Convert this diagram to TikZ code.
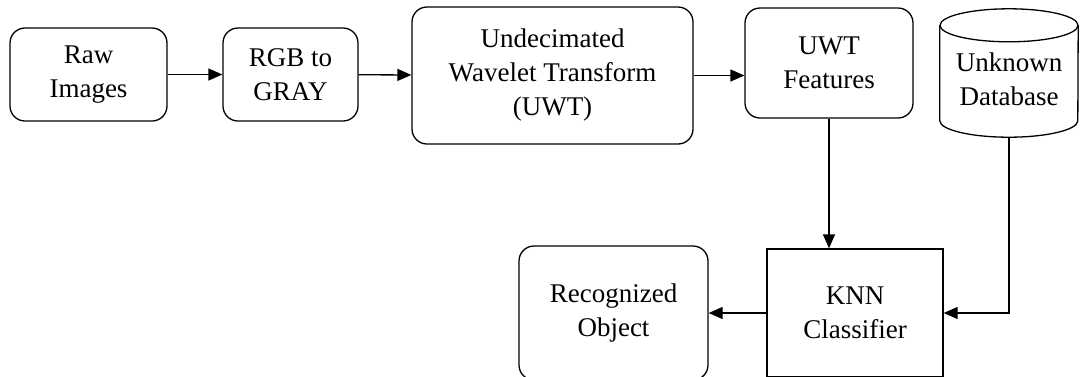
\documentclass[tikz,border=0pt]{standalone}
\usepackage{fontspec}
\setmainfont{Liberation Serif}
\usetikzlibrary{arrows.meta}

\tikzset{
  blockbox/.style={draw, rounded corners=15pt, line width=1.3pt, align=center},
  squarebox/.style={draw, line width=1.3pt, align=center},
  dbline/.style={line width=1.3pt},
  flow/.style={line width=1.3pt, -{Triangle[length=14pt,width=12pt]}}
}

\begin{document}
\begin{tikzpicture}[x=1pt, y=-1pt, font=\fontsize{27}{34}\selectfont]
\useasboundingbox (0,0) rectangle (1081,376);

% Upper row
\node[blockbox, minimum width=157pt, minimum height=93pt] (raw) at (88.5,74.5) {Raw\\Images};
\node[blockbox, minimum width=135pt, minimum height=93pt] (gray) at (290.5,74.5) {RGB to\\GRAY};
\node[blockbox, minimum width=281pt, minimum height=137pt] (uwt) at (552.5,75.5) {Undecimated\\Wavelet Transform\\(UWT)};
\node[blockbox, minimum width=168pt, minimum height=110pt] (feat) at (829,63) {UWT\\Features};

% Database cylinder
\node[align=center, minimum width=138pt, minimum height=116pt] (db) at (1009,79) {Unknown\\Database};
\draw[dbline] ([yshift=-4.5pt]db.north) ellipse [x radius=69pt, y radius=16.5pt];
\draw[dbline] ([yshift=-4.5pt]db.north west) -- ([yshift=16.5pt]db.south west)
  arc[start angle=180, end angle=360, x radius=69pt, y radius=16.5pt] -- ([yshift=-4.5pt]db.north east);

% Lower row
\node[squarebox, minimum width=176pt, minimum height=128pt] (knn) at (855,313) {KNN\\Classifier};
\node[blockbox, minimum width=189pt, minimum height=134pt] (rec) at (613.5,313) {Recognized\\Object};

% Arrows
\draw[flow] (raw) -- (gray);
\draw[flow] (gray) -- (uwt);
\draw[flow] (uwt.east) -- (uwt.east -| feat.west);
\draw[flow] (feat.south) -- (feat.south |- knn.north);
\draw[flow] (db.south) |- (knn.east);
\draw[flow] (knn) -- (rec);

\end{tikzpicture}
\end{document}
